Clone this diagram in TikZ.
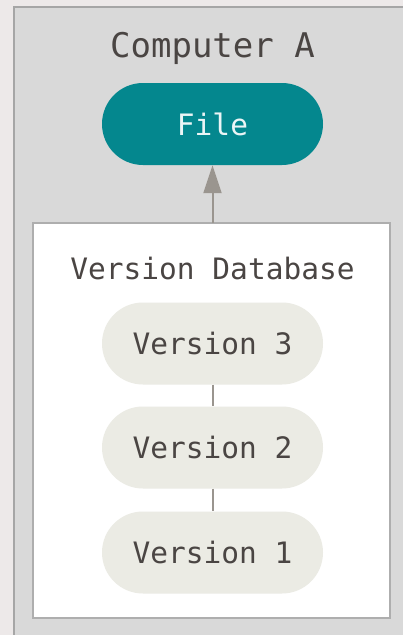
\documentclass[tikz,border=0pt]{standalone}
\usepackage{fontspec}
\setmonofont{DejaVu Sans Mono}
\usetikzlibrary{arrows.meta,shapes.misc}
\definecolor{bgc}{HTML}{EDE9E9}
\definecolor{outerfill}{HTML}{D9D9D9}
\definecolor{outerline}{HTML}{A6A6A6}
\definecolor{innerline}{HTML}{AEAEAE}
\definecolor{teal}{HTML}{04878E}
\definecolor{pillfill}{HTML}{EBEBE4}
\definecolor{txt}{HTML}{4A4543}
\definecolor{conn}{HTML}{9A958F}
\tikzset{
  pill/.style={rounded rectangle, minimum width=221pt, minimum height=82pt, inner sep=0pt,
    font=\ttfamily\fontsize{29.5}{30}\selectfont},
  filepill/.style={pill, fill=teal, text=white!92!teal},
  verpill/.style={pill, fill=pillfill, text=txt},
  title/.style={font=\ttfamily\fontsize{34}{36}\selectfont, text=txt, inner sep=0pt},
  subtitle/.style={font=\ttfamily\fontsize{29.5}{30}\selectfont, text=txt, inner sep=0pt},
  link/.style={draw=conn, line width=2pt},
}
\begin{document}
\begin{tikzpicture}[x=1pt,y=1pt]
\useasboundingbox (0,0) rectangle (403,-635);
\fill[bgc] (0,0) rectangle (403,-635);
\draw[fill=outerfill, draw=outerline, line width=2pt] (14,-7) rectangle (420,-650);
\draw[fill=white, draw=innerline, line width=2.5pt] (33,-223) rectangle (390,-618);
\coordinate (dbtop) at (212.5,-223);
\node[title] (comp) at (212.5,-48) {Computer A};
\node[filepill] (file) at (212.5,-124) {File};
\node[subtitle] (db) at (212.5,-268) {Version Database};
\node[verpill] (v3) at (212.5,-343.5) {Version 3};
\node[verpill] (v2) at (212.5,-447.5) {Version 2};
\node[verpill] (v1) at (212.5,-552.5) {Version 1};
\draw[link, -{Triangle[length=28pt,width=18pt]}] (dbtop) -- (file.south);
\draw[link] (v3.south) -- (v2.north);
\draw[link] (v2.south) -- (v1.north);
\end{tikzpicture}
\end{document}
